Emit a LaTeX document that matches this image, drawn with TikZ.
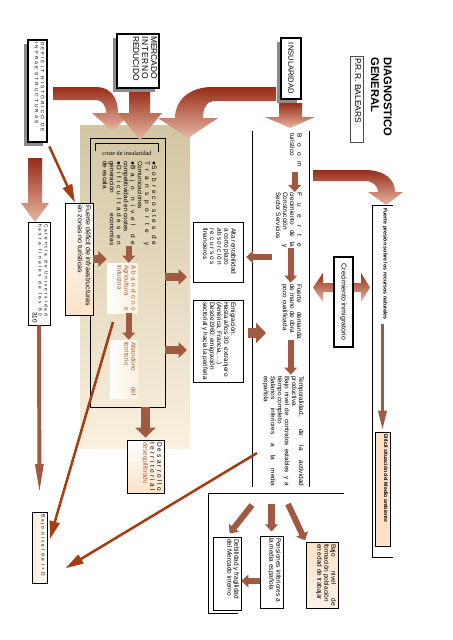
\documentclass[tikz,border=0pt]{standalone}
\usepackage{fontspec}
\setmainfont{Liberation Sans}
\newfontfamily\serifx{Liberation Serif}
\usepackage{graphicx}
\usetikzlibrary{arrows.meta, calc, shadows}

\definecolor{arrD}{RGB}{150,45,25}
\definecolor{arrL}{RGB}{232,182,162}
\definecolor{brn}{RGB}{160,90,65}
\definecolor{dred}{RGB}{165,60,20}
\definecolor{panD}{RGB}{210,198,163}
\definecolor{panL}{RGB}{250,240,222}
\definecolor{peach}{RGB}{252,226,200}
\definecolor{txtbrn}{RGB}{175,95,45}

\newlength{\pu}\setlength{\pu}{0.025cm}
\newcommand{\fa}{\fontsize{4.6}{5}\selectfont}
\newcommand{\spr}[2][\linewidth]{\makebox[#1][s]{\spaceskip=0.05em plus 1fil\relax #2}}
\newcommand{\vt}[3]{\rotatebox{-90}{\parbox[c][#2][t]{#1}{\raggedright #3}}}
\newcommand{\vc}[3]{\rotatebox{-90}{\parbox[c][#2][c]{#1}{\centering #3}}}

\begin{document}
\begin{tikzpicture}[x=0.025cm, y=-0.025cm,
    box/.style={draw, line width=0.5pt, fill=white, inner sep=0.05cm},
    shbox/.style={box, line width=0.8pt, drop shadow={shadow xshift=-0.1cm, shadow yshift=-0.1cm, fill=black!45, opacity=1}},
    bigarrow/.style={top color=arrD, bottom color=arrL},
    sarrow/.style={draw=brn, line width=4.3pt, -{Triangle[length=5pt, width=9pt]}},
    farrow/.style={draw=brn, line width=5.7pt, -{Triangle[length=6pt, width=11pt]}},
    barrow/.style={draw=brn, line width=7pt, -{Triangle[length=7pt, width=14pt]}},
    tarrow/.style={draw=brn, line width=2.8pt, -{Triangle[length=22pt, width=5.5pt]}},
    darrow/.style={draw=dred, line width=1.8pt, -{Triangle[length=13pt, width=7pt]}}]
    \fill[white] (0,0) rectangle (453,640);
    \useasboundingbox (0,0) rectangle (453,640);

    % panel of the insularity costs
    \shade[top color=panD, bottom color=panL] (80,125) rectangle (190,448);
    \node[draw, line width=0.6pt, minimum width=75\pu, minimum height=269\pu, inner sep=0] (coste) at (127.5,272.5) {};
    \draw (95,151) -- (95,143) -- (158,143) -- (158,152);
    \node[font=\serifx\fontsize{4.4}{5}\selectfont] (costet) at (127,153) {coste de insularidad};
    \node[anchor=north east, inner sep=0] (sobre) at (157,161) {\vt{84\pu}{56\pu}{\fa
        \spr{●S o b r e c o s t e s\ \ d e}\\\spr{T r a n s p o r t e\ \ y}\\Comunicaciones\\
        \spr{●B a j o\ \ n i v e l\ \ d e}\\competitividad en costes\\
        \spr{●D i f i c u l t a d e s\ \ e n}\\\spr{generación economías}\\de escala}};
    \node[inner sep=0.05cm, left color=white, right color=panL] (aband) at (122.5,288)
        {\vt{46\pu}{27\pu}{\fa\color{txtbrn}\spr{A b a n d o n o}\\Agricultura\hfill e\\Industria}};
    \node[inner sep=0.05cm, left color=white, right color=panL] (aband2) at (124,369)
        {\vt{54\pu}{24\pu}{\fa\color{txtbrn}\spr{Abandono del}\\territorio}};

    % title
    \node[anchor=north east, inner sep=0] (titulo) at (392,57) {\vt{90\pu}{26\pu}{\fontsize{8}{9}\selectfont\bfseries DIAGNOSTICO\\GENERAL}};
    \node[box, draw=black!70] (prr) at (356.5,99) {\vt{82\pu}{9\pu}{\fontsize{6}{6.5}\selectfont P.R.R. BALEARS}};

    % big arrows
    \shade[bigarrow] (53,87) -- (96,87) .. controls (110,87) and (118,97) .. (118,113) -- (132,113) -- (112,131) -- (92,113) -- (106,113) .. controls (106,105) and (102,100) .. (96,100) -- (53,100) -- cycle;
    \shade[bigarrow] (129,90) -- (150,90) -- (150,113) -- (162,113) -- (140,140) -- (118,113) -- (129,113) -- cycle;
    \shade[bigarrow] (276,87) -- (212,87) .. controls (190,87) and (175,100) .. (175,118) -- (158,118) -- (188,138) -- (218,118) -- (203,118) .. controls (203,108) and (207,101) .. (214,101) -- (276,101) -- cycle;
    \shade[bigarrow] (279,103) -- (302,103) -- (302,117) -- (315,117) -- (290,128) -- (265,117) -- (279,117) -- cycle;
    \shade[bigarrow] (313,170) -- (365,170) .. controls (384,170) and (395,179) .. (395,192) -- (403,192) -- (386,205) -- (368,192) -- (378,192) .. controls (378,186) and (373,181) .. (365,181) -- (313,181) -- cycle;
    \shade[bigarrow] (28,158) -- (42,158) -- (42,203) -- (49,203) -- (35,222) -- (21,203) -- (28,203) -- cycle;
    \shade[bigarrow] (334,283) -- (323,283) -- (323,273) -- (313,287.5) -- (323,302) -- (323,292) -- (334,292) -- cycle;
    \shade[bigarrow] (353,283) -- (361,283) -- (361,273) -- (370,287.5) -- (361,302) -- (361,292) -- (353,292) -- cycle;

    % boxes on the left
    \node[shbox] (merc) at (138,61) {\vt{50\pu}{38\pu}{\fontsize{6}{6.4}\selectfont MERCADO\\\spr[43\pu]{I N T E R N O}\\REDUCIDO}};
    \node[shbox] (insul) at (291,68.5) {\vc{57\pu}{16\pu}{\fontsize{5.4}{6}\selectfont INSULARIDAD}};
    \node[shbox] (deficit) at (37.5,91) {\vt{98\pu}{15\pu}{\fontsize{3.4}{4.3}\selectfont
        \spr[90\pu]{D E F I C I T\ \ H I S T Ó R I C O\ \ D E}\\\spr[82\pu]{I N F R A E S T R U C T U R A S}}};
    \node[box, top color=white, bottom color=peach] (fdef) at (79,259) {\vt{108\pu}{24\pu}{\fontsize{5}{5.7}\selectfont Fuerte déficit de infraestructuras\\en zonas no turísticas}};
    \node[box] (caren) at (39,273.5) {\vt{99\pu}{18\pu}{\fontsize{3.4}{4.2}\selectfont
        \spr[92\pu]{C a r e n c i a\ \ d e\ \ U n i v e r s i d a d}\\\spr[92\pu]{h a s t a\ \ f i n a l e s\ \ d e\ \ l o s\ \ 8 0}\\\mbox{}\hfill{\fontsize{4.5}{4.5}\selectfont 310}}};
    \node[box, left color=peach!70, right color=white] (imasd) at (39.5,547.5) {\vt{67\pu}{11\pu}{\fontsize{3.4}{4}\selectfont\spr[62\pu]{B a j o\ \ n i v e l\ \ d e\ \ I + D}}};
    \node[box, top color=white, bottom color=peach] (desar) at (145.5,466.5) {\vt{49\pu}{33\pu}{\fa
        \spr{D e s a r r o l l o}\\\spr{t e r r i t o r i a l}\\{\color{txtbrn}desequilibrado}}};

    % middle boxes
    \node[box, minimum width=50\pu, minimum height=60\pu] (alta) at (218,252) {\vt{48\pu}{36\pu}{\fa
        Alta rentabilidad\\a corto plazo\\\spr[37\pu]{a b s o r c i ó n}\\\spr[37\pu]{r e c u r s o s}\\financieros}};
    \node[box, minimum width=50\pu, minimum height=82\pu] (emig) at (218,341) {\vt{78\pu}{36\pu}{\fa
        Emigración:\\Hasta años 30: extranjero\\(América, Francia, ...)\\\spr[68\pu]{Desde 1960: emigración}\\sectorial y hacia la periferia}};

    % right column
    \draw[line width=0.6pt] (252,131) -- (252,487);
    \draw[line width=0.6pt] (309,131) -- (309,487);
    \node[anchor=north east, inner sep=0] (boom) at (302,133) {\vt{34\pu}{14\pu}{\fa\spr{B o o m}\\turístico}};
    \node[anchor=north east, inner sep=0] (crec) at (302,192) {\vt{55\pu}{28\pu}{\fa
        \spr{F u e r t e}\\\spr{crecimiento de la}\\\spr{Construcción y}\\Sector Servicios}};
    \node[anchor=north east, inner sep=0] (dem) at (302,284) {\vt{55\pu}{22\pu}{\fa\spr{Fuerte demanda}\\de mano de obra\\poco cualificada}};
    \node[anchor=north east, inner sep=0] (temp) at (304,376) {\vt{110\pu}{44\pu}{\fa
        \spr{Temporalidad, de la actividad}\\productiva\\\spr{Bajo nivel de contratos estables y a}\\tiempo completo\\
        \spr{Salarios inferiores a la media}\\española}};
    \node[box, line width=0.9pt] (inmig) at (343.5,302) {\vc{86\pu}{15\pu}{\fontsize{5}{5.5}\selectfont Crecimiento inmigratorio}};

    \draw[line width=0.6pt] (393,205) -- (372,205) -- (372,557) -- (393,557);
    \node[anchor=north, inner sep=0] (pres) at (385,208) {\rotatebox{-90}{\fontsize{3.8}{4}\selectfont\bfseries Fuerte presión sobre los recursos naturales}};
    \node[box, fill=peach] (dific) at (382.5,489) {\vt{110\pu}{11\pu}{\fontsize{3.7}{4}\selectfont\bfseries Difícil situación del Medio ambiente}};

    % bottom right
    \draw[line width=0.6pt] (344,493) -- (208,493) -- (208,613) -- (238,613);
    \node[box, top color=peach, bottom color=peach!45] (form) at (322,575) {\vt{62\pu}{28\pu}{\fa
        \spr{Bajo nivel de}\\formación población\\en edad de trabajar}};
    \node[box] (pens) at (271.5,572) {\vt{68\pu}{19\pu}{\fa Pensiones inferiores a\\la media española}};
    \node[box] (debil) at (227,573.5) {\vt{69\pu}{24\pu}{\fa Debilidad y fragilidad\\del Mercado interno}};

    % small arrows
    \draw[sarrow] (sobre.south) -- (sobre.south |- aband.north);
    \draw[sarrow] (sobre.south |- aband.south) -- (sobre.south |- aband2.north);
    \draw[farrow] (fdef.east) -- (fdef.east -| aband.west);
    \coordinate (c1) at (165,277);
    \coordinate (c2) at (165,350);
    \draw[farrow, shorten >=4pt] (c1) -- (c1 -| alta.west);
    \draw[farrow, shorten >=4pt] (c2) -- (c2 -| emig.west);
    \draw[barrow, shorten >=1.5pt] (coste.south -| desar.north) -- (desar.north);
    \draw[sarrow, shorten <=3pt] (boom.south) -- (boom.south |- crec.north);
    \draw[sarrow, shorten >=1pt] (crec.south -| dem.north) -- (dem.north);
    \draw[sarrow, shorten >=1pt] (dem.south) -- (dem.south |- temp.north);
    \coordinate (bsrc) at (272,257);
    \draw[sarrow, shorten >=2pt] (bsrc) -- (bsrc -| alta.east);
    \coordinate (etip) at (266,333);
    \draw[barrow, shorten <=3.5pt] (etip -| emig.east) -- (etip);
    \coordinate (m1) at (252,505);
    \coordinate (m2) at (271.5,504);
    \coordinate (m3) at (288,504);
    \draw[sarrow, shorten >=3pt] (m1) -- (debil.north);
    \draw[sarrow, shorten >=3pt] (m2) -- (pens.north);
    \draw[sarrow, shorten >=1pt] (m3) -- (form.north west);
    \coordinate (pa) at (250,581);
    \draw[sarrow] (pa -| pens.west) -- (pa -| debil.east);
    \draw[tarrow, shorten >=12pt] (caren.south) -- (imasd.north);
    \draw[tarrow, -{Triangle[length=15pt, width=5.5pt]}, shorten <=3pt] (pres.south -| dific.north) -- (dific.north);

    % long dark arrows
    \draw[darrow, shorten <=3pt] (deficit.south east) -- ([xshift=-0.1cm]fdef.north);
    \coordinate (d1) at (113,322);
    \coordinate (d2) at (257,453);
    \draw[darrow, shorten >=6pt] (d1) -- (imasd.east);
    \draw[darrow] (d2) -- ($(imasd.south east)+(18,-15)$);
\end{tikzpicture}
\end{document}
